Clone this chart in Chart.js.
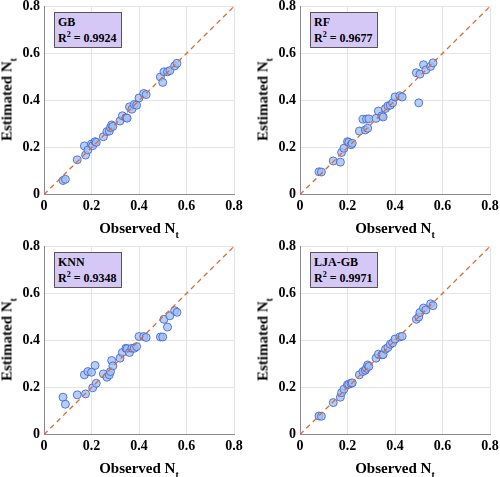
<!DOCTYPE html>
<html>
<head>
<meta charset="utf-8">
<script src="https://cdn.jsdelivr.net/npm/chart.js@4/dist/chart.umd.min.js"></script>
<style>
    body { margin: 0; background: #fff; width: 500px; height: 477px; position: relative; overflow: hidden;
           font-family: "Liberation Serif", "Times New Roman", serif; font-weight: bold; color: #000; }
    .panel { position: absolute; width: 250px; height: 250px; }
    .panel canvas { position: absolute; left: 0; top: 0; }
    .xtitle { position: absolute; left: 44px; width: 190px; top: 226px; text-align: center; font-size: 15px; line-height: 17px; white-space: nowrap; }
    .ytitle { position: absolute; left: -88px; top: 97px; width: 190px; text-align: center; font-size: 15px; line-height: 17px;
              transform: rotate(-90deg); white-space: nowrap; }
    .xtitle sub, .ytitle sub { font-size: 10px; line-height: 0; vertical-align: -5px; }
    .box { position: absolute; left: 54px; top: 18px; background: #d6c8f6; border: 1px solid #555;
           font-size: 12px; line-height: 16px; padding: 1px 4px 1px 3px; white-space: nowrap; }
    .box sup { font-size: 8px; line-height: 0; vertical-align: 5px; }
</style>
</head>
<body>

<div class="panel" style="left:0;top:-6px">
    <canvas id="c1" width="250" height="250"></canvas>
    <div class="box">GB<br>R<sup>2</sup> = 0.9924</div>
    <div class="xtitle">Observed N<sub>t</sub></div>
    <div class="ytitle">Estimated N<sub>t</sub></div>
</div>
<div class="panel" style="left:256px;top:-6px">
    <canvas id="c2" width="250" height="250"></canvas>
    <div class="box">RF<br>R<sup>2</sup> = 0.9677</div>
    <div class="xtitle">Observed N<sub>t</sub></div>
    <div class="ytitle">Estimated N<sub>t</sub></div>
</div>
<div class="panel" style="left:0;top:234px">
    <canvas id="c3" width="250" height="250"></canvas>
    <div class="box">KNN<br>R<sup>2</sup> = 0.9348</div>
    <div class="xtitle">Observed N<sub>t</sub></div>
    <div class="ytitle">Estimated N<sub>t</sub></div>
</div>
<div class="panel" style="left:256px;top:234px">
    <canvas id="c4" width="250" height="250"></canvas>
    <div class="box">LJA-GB<br>R<sup>2</sup> = 0.9971</div>
    <div class="xtitle">Observed N<sub>t</sub></div>
    <div class="ytitle">Estimated N<sub>t</sub></div>
</div>

<script>
// ── Data ─────────────────────────────────────────────────────
const observed = [0.08, 0.09, 0.14, 0.17, 0.175, 0.185, 0.20, 0.205, 0.215, 0.22,
                  0.25, 0.265, 0.275, 0.28, 0.285, 0.29, 0.32, 0.33, 0.345, 0.35,
                  0.36, 0.37, 0.38, 0.39, 0.40, 0.42, 0.43, 0.49, 0.50, 0.505,
                  0.52, 0.53, 0.55, 0.56];

const estGB    = [0.060, 0.065, 0.148, 0.207, 0.168, 0.190, 0.215, 0.208, 0.225, 0.222,
                  0.246, 0.268, 0.270, 0.285, 0.296, 0.290, 0.313, 0.335, 0.327, 0.325,
                  0.373, 0.363, 0.383, 0.380, 0.411, 0.430, 0.425, 0.500, 0.477, 0.522,
                  0.522, 0.527, 0.547, 0.558];

const estRF    = [0.097, 0.096, 0.143, 0.138, 0.179, 0.197, 0.225, 0.222, 0.212, 0.218,
                  0.270, 0.320, 0.275, 0.321, 0.282, 0.322, 0.324, 0.355, 0.335, 0.330,
                  0.366, 0.377, 0.380, 0.390, 0.415, 0.420, 0.415, 0.518, 0.390, 0.512,
                  0.552, 0.530, 0.545, 0.560];

const estKNN   = [0.159, 0.129, 0.169, 0.254, 0.173, 0.268, 0.265, 0.199, 0.294, 0.218,
                  0.258, 0.244, 0.254, 0.268, 0.315, 0.292, 0.325, 0.349, 0.367, 0.365,
                  0.349, 0.367, 0.367, 0.374, 0.417, 0.417, 0.413, 0.415, 0.415, 0.490,
                  0.457, 0.505, 0.527, 0.520];

const estLJAGB = [0.079, 0.078, 0.136, 0.159, 0.178, 0.193, 0.212, 0.214, 0.218, 0.220,
                  0.254, 0.268, 0.274, 0.282, 0.296, 0.290, 0.325, 0.342, 0.339, 0.340,
                  0.363, 0.370, 0.384, 0.390, 0.406, 0.415, 0.418, 0.490, 0.500, 0.519,
                  0.538, 0.530, 0.556, 0.548];

const diagX = [0, 0.8];
const diagY = [0, 0.8];
const tickLabels = ['0', '0.2', '0.4', '0.6', '0.8'];

// ── Shared axis styling ──────────────────────────────────────
const tickFont = { family: "'Liberation Serif', 'Times New Roman', serif", size: 14, weight: 'bold' };

function axis(isX) {
    return {
        type: 'linear',
        min: 0,
        max: 0.8,
        ticks: {
            stepSize: 0.2,
            color: '#000',
            font: tickFont,
            padding: isX ? 3 : 4,
            callback: v => tickLabels[Math.round(v / 0.2)]
        },
        grid: { color: '#e4e4e4', drawTicks: false, lineWidth: 1 },
        border: { color: '#8a8a8a', width: 1 },
        afterFit: s => { if (isX) s.height = 49.4; else s.width = 44; }
    };
}

// ── One panel = one chart ────────────────────────────────────
function makePanel(id, est) {
    new Chart(document.getElementById(id), {
        data: {
            datasets: [
                {
                    type: 'line',
                    data: diagX.map((x, i) => ({ x: x, y: diagY[i] })),
                    borderColor: '#dd6a30',
                    borderDash: [5, 4],
                    borderWidth: 1.3,
                    pointRadius: 0,
                    order: 0
                },
                {
                    type: 'scatter',
                    data: observed.map((x, i) => ({ x: x, y: est[i] })),
                    backgroundColor: 'rgba(160,192,242,0.78)',
                    borderColor: 'rgba(65,100,215,0.85)',
                    borderWidth: 1,
                    pointRadius: 4,
                    order: 1
                }
            ]
        },
        options: {
            responsive: false,
            animation: false,
            events: [],
            layout: { padding: { top: 12, right: 16, left: 0, bottom: 0 } },
            plugins: { legend: { display: false }, tooltip: { enabled: false } },
            scales: { x: axis(true), y: axis(false) }
        }
    });
}

makePanel('c1', estGB);
makePanel('c2', estRF);
makePanel('c3', estKNN);
makePanel('c4', estLJAGB);
</script>
</body>
</html>
